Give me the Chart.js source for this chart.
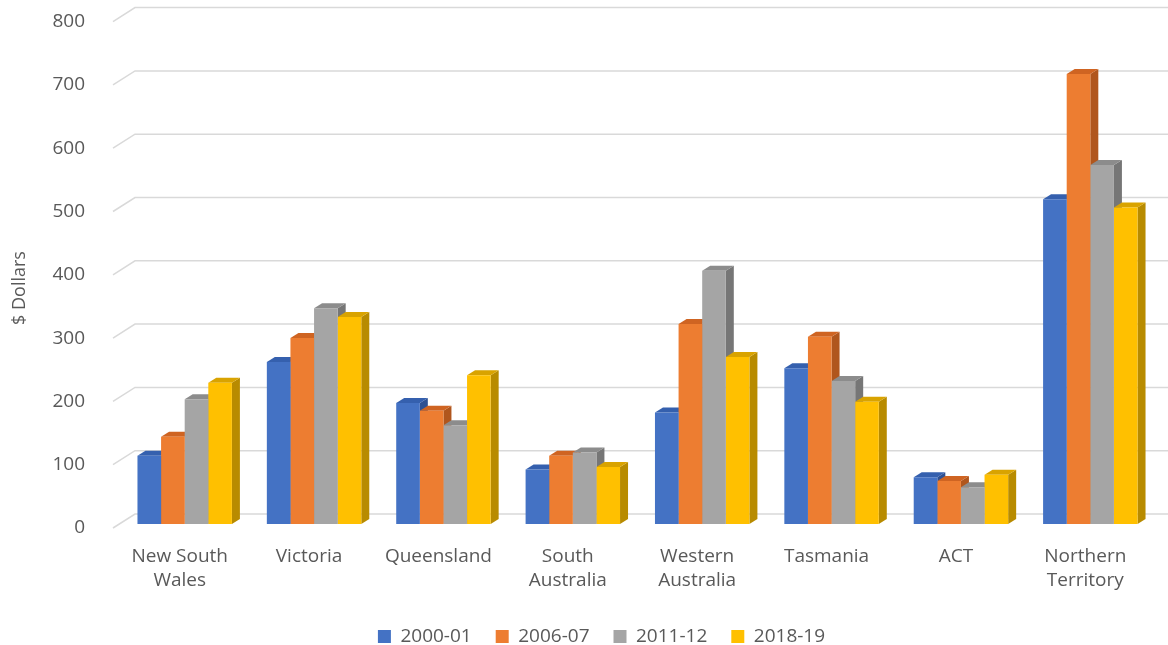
<!DOCTYPE html>
<html>
<head>
<meta charset="utf-8">
<script src="https://cdn.jsdelivr.net/npm/chart.js@4.4.1/dist/chart.umd.min.js"></script>
<style>
  body { margin: 0; background: #fff; }
  #wrap { width: 1168px; height: 645px; }
</style>
</head>
<body>
<div id="wrap"><canvas id="spendChart"></canvas></div>
<script>
// values (dollars)
const states = [["New South", "Wales"], "Victoria", "Queensland", ["South", "Australia"],
                ["Western", "Australia"], "Tasmania", "ACT", ["Northern", "Territory"]];
const years = ["2000-01", "2006-07", "2011-12", "2018-19"];
const y2000 = [108, 256, 191, 86, 176, 246, 74, 513];
const y2006 = [138, 294, 179, 108, 316, 296, 68, 711];
const y2011 = [197, 341, 156, 113, 400, 226, 58, 567];
const y2018 = [223, 327, 235, 90, 264, 193, 78, 500];

const frontColors = ["#4472C4", "#ED7D31", "#A5A5A5", "#FFC000"];
const topColors = ["#3560AE", "#CF6422", "#8C8C8C", "#D9A300"];
const sideColors = ["#2E5193", "#B0561D", "#767676", "#B88B00"];
const textColor = "#595959";
const fontFamily = "'Open Sans', 'Noto Sans', sans-serif";
const dx = 8, dy = -5;

// draws the back wall gridlines plus top/side faces of each bar
const bar3d = {
    id: "bar3d",
    beforeDatasetsDraw(chart) {
        const ctx = chart.ctx;
        const area = chart.chartArea;
        const yScale = chart.scales.y;
        ctx.save();
        ctx.strokeStyle = "#d9d9d9";
        ctx.lineWidth = 1.5;
        yScale.ticks.forEach(t => {
            const py = yScale.getPixelForValue(t.value);
            ctx.beginPath();
            ctx.moveTo(area.left - 7, py + 4);
            ctx.lineTo(area.left + 15, py - 10);
            ctx.lineTo(chart.width, py - 10);
            ctx.stroke();
        });

        const metas = chart.getSortedVisibleDatasetMetas();
        metas.forEach(meta => {
            ctx.fillStyle = sideColors[meta.index];
            meta.data.forEach(bar => {
                const p = bar.getProps(["x", "y", "base", "width"], true);
                const r = p.x + p.width / 2;
                ctx.beginPath();
                ctx.moveTo(r, p.y);
                ctx.lineTo(r + dx, p.y + dy);
                ctx.lineTo(r + dx, p.base + dy);
                ctx.lineTo(r, p.base);
                ctx.closePath();
                ctx.fill();
            });
        });
        metas.forEach(meta => {
            ctx.fillStyle = topColors[meta.index];
            meta.data.forEach(bar => {
                const p = bar.getProps(["x", "y", "base", "width"], true);
                const l = p.x - p.width / 2, r = p.x + p.width / 2;
                ctx.beginPath();
                ctx.moveTo(l, p.y);
                ctx.lineTo(r, p.y);
                ctx.lineTo(r + dx, p.y + dy);
                ctx.lineTo(l + dx, p.y + dy);
                ctx.closePath();
                ctx.fill();
            });
        });
        ctx.restore();
    },
    afterDraw(chart) {
        const ctx = chart.ctx;
        ctx.save();
        ctx.translate(20, 288);
        ctx.rotate(-Math.PI / 2);
        ctx.font = "18px " + fontFamily;
        ctx.fillStyle = textColor;
        ctx.textAlign = "center";
        ctx.textBaseline = "middle";
        ctx.fillText("$ Dollars", 0, 0);
        ctx.restore();
    }
};

const seriesData = [y2000, y2006, y2011, y2018];

new Chart(document.getElementById("spendChart"), {
    type: "bar",
    data: {
        labels: states,
        datasets: years.map((yr, i) => ({
            label: yr,
            data: seriesData[i],
            backgroundColor: frontColors[i],
            borderWidth: 0,
            categoryPercentage: 0.73,
            barPercentage: 1
        }))
    },
    plugins: [bar3d],
    options: {
        responsive: true,
        maintainAspectRatio: false,
        animation: false,
        layout: {
            padding: { left: 48, right: 13, top: 17.6, bottom: 0 }
        },
        scales: {
            x: {
                grid: { display: false },
                border: { display: false },
                ticks: {
                    color: textColor,
                    font: { family: fontFamily, size: 19, lineHeight: 1.3 },
                    padding: 12,
                    labelOffset: -5,
                    maxRotation: 0,
                    autoSkip: false
                },
                afterFit(scale) { scale.height = 79; }
            },
            y: {
                min: 0,
                max: 800,
                grid: { display: false },
                border: { display: false },
                ticks: {
                    stepSize: 100,
                    color: textColor,
                    font: { family: fontFamily, size: 19 },
                    padding: 27,
                    labelOffset: 4
                },
                afterFit(scale) {
                    scale.width = 72;
                    scale.paddingTop = 0;
                    scale.paddingBottom = 0;
                }
            }
        },
        plugins: {
            legend: {
                position: "bottom",
                maxHeight: 42,
                labels: {
                    boxWidth: 13,
                    boxHeight: 13,
                    padding: 24,
                    color: textColor,
                    font: { family: fontFamily, size: 19 }
                }
            },
            tooltip: { enabled: false }
        }
    }
});
</script>
</body>
</html>
